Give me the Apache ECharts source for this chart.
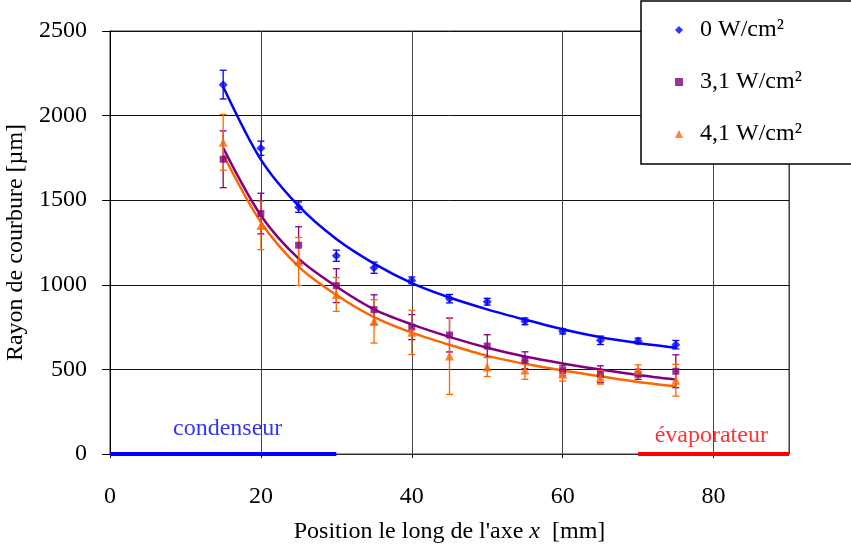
<!DOCTYPE html>
<html>
<head>
<meta charset="utf-8">
<script src="https://cdn.jsdelivr.net/npm/echarts@6/dist/echarts.min.js"></script>
<style>
  html, body { margin: 0; padding: 0; background: #fff; }
  #main { width: 851px; height: 545px; }
</style>
</head>
<body>
<div id="main"></div>
<script>
var FONT = "'Liberation Serif', 'Times New Roman', serif";

// positions le long de l'axe [mm]
var positions = [15, 20, 25, 30, 35, 40, 45, 50, 55, 60, 65, 70, 75];

// 0 W/cm2
var val0 = [2183, 1807, 1459, 1172, 1101, 1026, 918, 900, 784, 725, 672, 668, 646];
var err0 = [85, 42, 31, 33, 33, 20, 25, 20, 20, 15, 25, 17, 25];
var fit0 = [2171, 1740, 1466, 1270, 1125, 1010, 925, 855, 794, 737, 690, 656, 628];

// 3,1 W/cm2
var val31 = [1742, 1421, 1234, 995, 853, 750, 703, 638, 554, 491, 471, 471, 489];
var err31 = [168, 120, 109, 100, 88, 74, 100, 67, 50, 30, 50, 30, 97];
var fit31 = [1809, 1410, 1155, 990, 855, 766, 692, 628, 576, 535, 499, 467, 440];

// 4,1 W/cm2
var val41 = [1842, 1351, 1138, 943, 784, 719, 579, 514, 496, 471, 453, 495, 436];
var err41 = [165, 143, 142, 100, 128, 131, 227, 56, 55, 40, 40, 32, 94];
var fit41 = [1770, 1370, 1108, 940, 809, 717, 645, 580, 533, 493, 459, 426, 400];

// zones
var condenseur = [0, 30];
var evaporateur = [70, 90];

var names = ['0 W/cm²', '3,1 W/cm²', '4,1 W/cm²'];
var colors = ['#0000ff', '#800080', '#ff6600'];
var symbols = ['diamond', 'rect', 'triangle'];
var sizes = [9, 7, 9];

var myChart = echarts.init(document.getElementById('main'));

function pts(vals) {
    return positions.map(function (x, i) { return [x, vals[i]]; });
}
function bars(vals, errs) {
    return positions.map(function (x, i) { return [x, vals[i] - errs[i], vals[i] + errs[i]]; });
}
function errorBar(color) {
    return function (params, api) {
        var x = api.value(0);
        var lo = api.coord([x, api.value(1)]);
        var hi = api.coord([x, api.value(2)]);
        var w = 3.5;
        var st = { stroke: color, lineWidth: 1.3 };
        return {
            type: 'group',
            children: [
                { type: 'line', shape: { x1: lo[0], y1: lo[1], x2: hi[0], y2: hi[1] }, style: st },
                { type: 'line', shape: { x1: lo[0] - w, y1: lo[1], x2: lo[0] + w, y2: lo[1] }, style: st },
                { type: 'line', shape: { x1: hi[0] - w, y1: hi[1], x2: hi[0] + w, y2: hi[1] }, style: st }
            ]
        };
    };
}

var allVals = [val0, val31, val41];
var allErrs = [err0, err31, err41];
var allFits = [fit0, fit31, fit41];

var series = [];
for (var k = 0; k < 3; k++) {
    series.push({
        name: names[k] + ' fit',
        type: 'line',
        data: pts(allFits[k]),
        smooth: 0.3,
        symbol: 'none',
        lineStyle: { color: colors[k], width: 2.5 },
        z: 3
    });
    series.push({
        name: names[k] + ' err',
        type: 'custom',
        data: bars(allVals[k], allErrs[k]),
        renderItem: errorBar(colors[k]),
        encode: { x: 0, y: [1, 2] },
        z: 4
    });
    series.push({
        name: names[k],
        type: 'scatter',
        data: pts(allVals[k]),
        symbol: symbols[k],
        symbolSize: sizes[k],
        itemStyle: { color: colors[k] },
        z: 5
    });
}

// zones condenseur / évaporateur
series.push({
    name: 'condenseur',
    type: 'line',
    data: [[condenseur[0], 0], [condenseur[1], 0]],
    symbol: 'none',
    lineStyle: { color: '#0000ff', width: 4 },
    clip: false,
    z: 6
});
series.push({
    name: 'évaporateur',
    type: 'line',
    data: [[evaporateur[0], 0], [evaporateur[1], 0]],
    symbol: 'none',
    lineStyle: { color: '#ff0000', width: 4 },
    clip: false,
    z: 6
});
series.push({
    name: 'zones',
    type: 'scatter',
    symbolSize: 1,
    itemStyle: { color: 'transparent' },
    data: [
        { value: [15.6, 147], name: 'condenseur', label: { color: '#0000ff' } },
        { value: [79.7, 106], name: 'évaporateur', label: { color: '#ff0000' } }
    ],
    label: {
        show: true,
        position: 'inside',
        formatter: '{b}',
        fontFamily: FONT,
        fontSize: 24
    },
    z: 6
});

var option = {
    backgroundColor: '#fff',
    animation: false,
    textStyle: { fontFamily: FONT },
    grid: {
        left: 110,
        right: 62,
        top: 31,
        bottom: 91,
        show: true,
        borderColor: '#333',
        borderWidth: 1,
        containLabel: false,
        outerBoundsMode: 'none'
    },
    legend: {
        data: names.map(function (n, i) { return { name: n, icon: symbols[i] }; }),
        orient: 'vertical',
        left: 641,
        top: 1,
        itemWidth: 8,
        itemHeight: 8,
        itemGap: 28,
        padding: [17, 120, 18, 34],
        backgroundColor: '#fff',
        borderColor: '#000',
        borderWidth: 1.5,
        textStyle: { fontFamily: FONT, fontSize: 24, color: '#000', padding: [0, 0, 0, 12] },
        z: 10
    },
    xAxis: {
        type: 'value',
        min: 0,
        max: 90,
        interval: 20,
        name: 'Position le long de l\'axe {i|x}  [mm]',
        nameLocation: 'middle',
        nameGap: 66,
        nameTextStyle: {
            fontFamily: FONT, fontSize: 24, color: '#000',
            rich: { i: { fontFamily: FONT, fontSize: 24, fontStyle: 'italic', color: '#000' } }
        },
        axisLine: { lineStyle: { color: '#333', width: 1 } },
        axisTick: { show: true, length: 4, lineStyle: { color: '#000' } },
        axisLabel: { fontFamily: FONT, fontSize: 24, color: '#000', margin: 31, showMaxLabel: false },
        splitLine: { show: true, lineStyle: { color: '#444', width: 1 } }
    },
    yAxis: {
        type: 'value',
        min: 0,
        max: 2500,
        interval: 500,
        name: 'Rayon de courbure [µm]',
        nameLocation: 'middle',
        nameGap: 74,
        nameTextStyle: { fontFamily: FONT, fontSize: 24, color: '#000' },
        axisLine: { show: true, lineStyle: { color: '#000', width: 1 } },
        axisTick: { show: true, length: 8, lineStyle: { color: '#000' } },
        axisLabel: {
            fontFamily: FONT, fontSize: 24, color: '#000', margin: 23,
            formatter: function (v) { return String(v); }
        },
        splitLine: { show: true, lineStyle: { color: '#111', width: 1 } }
    },
    series: series
};

myChart.setOption(option);
</script>
</body>
</html>
